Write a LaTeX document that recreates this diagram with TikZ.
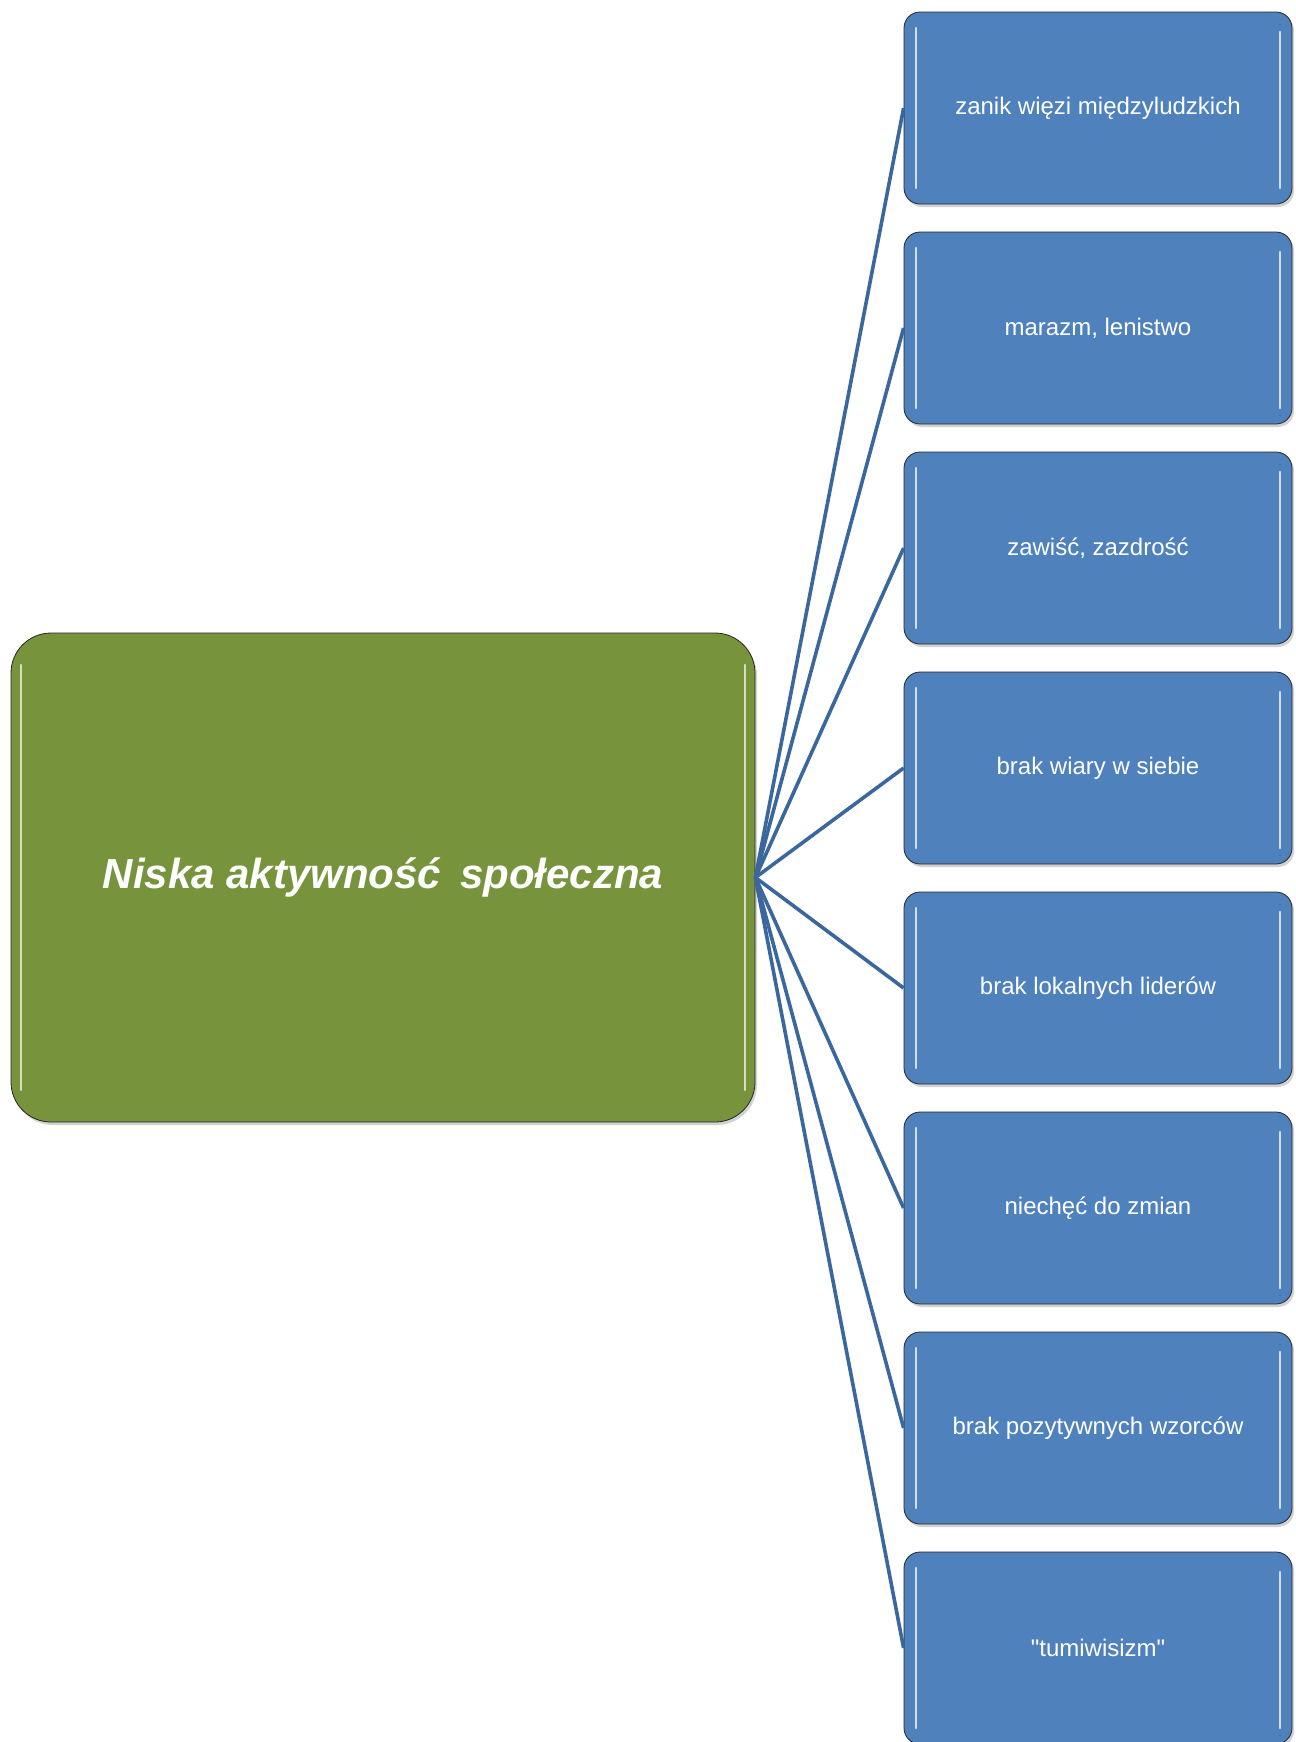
\documentclass[tikz,border=0pt]{standalone}
\usepackage{fontspec}
\setmainfont{Liberation Sans}
\usetikzlibrary{positioning,shadows}
\definecolor{hubgreen}{RGB}{119,147,60}
\definecolor{leafblue}{RGB}{79,129,189}
\definecolor{linkblue}{RGB}{58,103,158}
\begin{document}
\begin{tikzpicture}[x=0.5pt,y=-0.5pt]
\tikzstyle{hub}=[draw=black!85,fill=hubgreen,rounded corners=20pt,minimum width=372pt,minimum height=244.5pt,inner sep=0pt,text=white,font=\bfseries\itshape\fontsize{21}{25}\selectfont,drop shadow={shadow xshift=1pt,shadow yshift=-1.5pt,fill=black!35},
  path picture={\draw[hubgreen!30!white,line width=1.2pt,line cap=round] ([xshift=5pt,yshift=-16pt]path picture bounding box.north west) -- ([xshift=5pt,yshift=16pt]path picture bounding box.south west);
  \draw[hubgreen!30!white,line width=1.2pt,line cap=round] ([xshift=-5pt,yshift=-16pt]path picture bounding box.north east) -- ([xshift=-5pt,yshift=16pt]path picture bounding box.south east);}]
\tikzstyle{leaf}=[draw=black!85,fill=leafblue,rounded corners=8pt,minimum width=194pt,minimum height=96pt,inner sep=0pt,text=white,font=\fontsize{12}{14}\selectfont,drop shadow={shadow xshift=1pt,shadow yshift=-1.5pt,fill=black!35},
  path picture={\draw[leafblue!25!white,line width=1.2pt,line cap=round] ([xshift=6pt,yshift=-8pt]path picture bounding box.north west) -- ([xshift=6pt,yshift=8pt]path picture bounding box.south west);
  \draw[leafblue!25!white,line width=1.2pt,line cap=round] ([xshift=-6pt,yshift=-10pt]path picture bounding box.north east) -- ([xshift=-6pt,yshift=8pt]path picture bounding box.south east);}]
\tikzstyle{link}=[draw=linkblue,line width=1.8pt]
\useasboundingbox (0,0) rectangle (1296,1742);
\node[hub] (H) at (383,877.5) {Niska aktywność\, społeczna};
\node[leaf] (L_1) at (1098,108)  {zanik więzi międzyludzkich};
\node[leaf] (L_2) at (1098,328)  {marazm, lenistwo};
\node[leaf] (L_3) at (1098,548)  {zawiść, zazdrość};
\node[leaf] (L_4) at (1098,768)  {brak wiary w siebie};
\node[leaf] (L_5) at (1098,988)  {brak lokalnych liderów};
\node[leaf] (L_6) at (1098,1208) {niechęć do zmian};
\node[leaf] (L_7) at (1098,1428) {brak pozytywnych wzorców};
\node[leaf] (L_8) at (1098,1648) {\textquotedbl tumiwisizm\textquotedbl};
\draw[link] (H.east) -- (L_1.west);
\draw[link] (H.east) -- (L_2.west);
\draw[link] (H.east) -- (L_3.west);
\draw[link] (H.east) -- (L_4.west);
\draw[link] (H.east) -- (L_5.west);
\draw[link] (H.east) -- (L_6.west);
\draw[link] (H.east) -- (L_7.west);
\draw[link] (H.east) -- (L_8.west);
\end{tikzpicture}
\end{document}
